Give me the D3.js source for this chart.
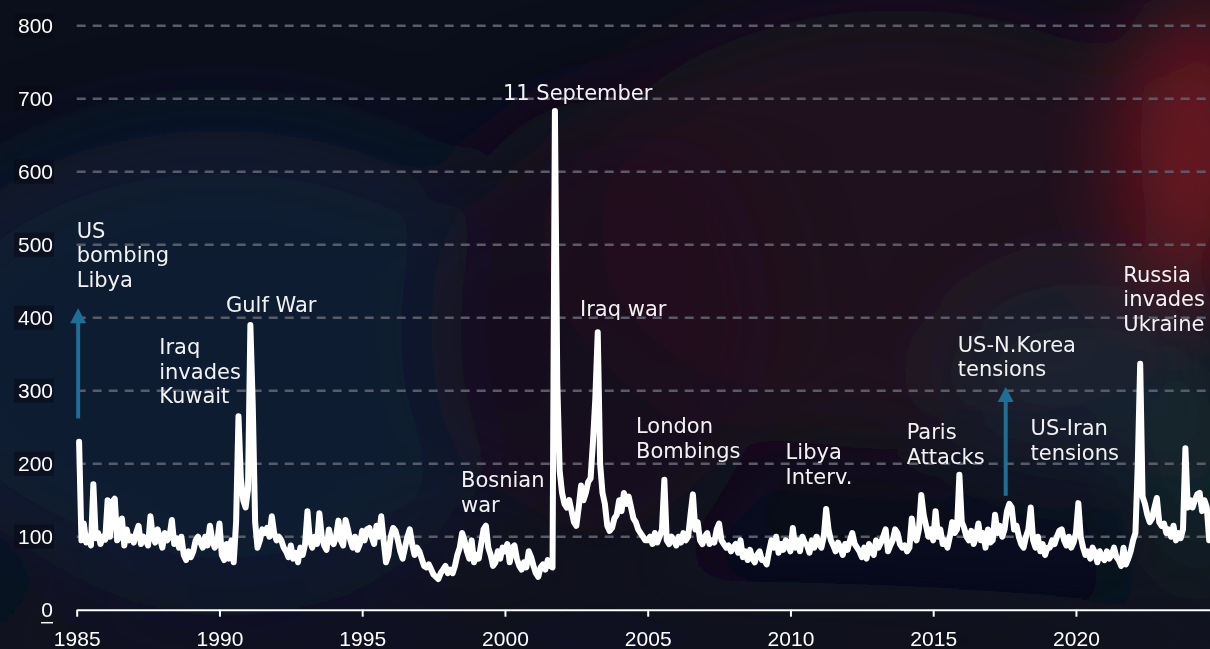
<!DOCTYPE html>
<html>
<head>
<meta charset="utf-8">
<script src="https://cdn.jsdelivr.net/npm/d3@7"></script>
<style>
  html, body { margin: 0; padding: 0; background: #0b1120; overflow: hidden; }
  svg { display: block; }
</style>
</head>
<body>
<svg id="chart" width="1210" height="649"></svg>
<script>
// ---------------- DATA ----------------
const startYear = 1985;
// Monthly geopolitical risk index, Jan 1985 - Aug 2024
const gprValues = [
  230, 95, 118, 92, 100, 88, 172, 98, 105, 90, 100, 96,      // 1985
  150, 100, 148, 152, 95, 100, 125, 88, 110, 95, 100, 92,    // 1986
  105, 115, 90, 100, 95, 88, 128, 100, 92, 110, 98, 85,      // 1987
  105, 95, 100, 123, 90, 98, 85, 100, 75, 68, 80, 72,        // 1988
  80, 95, 100, 92, 85, 100, 88, 115, 95, 85, 90, 118,        // 1989
  75, 68, 90, 70, 95, 65, 120, 265, 180, 150, 140, 165,      // 1990
  390, 280, 120, 85, 95, 110, 105, 112, 100, 128, 105, 95,   // 1991
  100, 95, 85, 80, 72, 88, 70, 78, 65, 85, 75, 90,           // 1992
  135, 95, 85, 100, 90, 132, 100, 88, 82, 110, 95, 90,       // 1993
  100, 122, 95, 88, 123, 110, 95, 85, 100, 82, 90, 108,      // 1994
  95, 110, 112, 100, 90, 115, 100, 128, 95, 65, 75, 100,     // 1995
  112, 108, 95, 80, 70, 85, 100, 110, 90, 75, 85, 80,        // 1996
  70, 60, 58, 62, 55, 48, 45, 42, 50, 55, 60, 50,            // 1997
  55, 50, 60, 75, 85, 105, 95, 80, 70, 95, 65, 75,           // 1998
  70, 90, 110, 115, 85, 75, 60, 65, 80, 70, 85, 80,          // 1999
  90, 65, 85, 88, 70, 60, 55, 65, 58, 80, 72, 60,            // 2000
  50, 45, 58, 62, 55, 68, 60, 58, 683, 310, 190, 160,        // 2001
  145, 140, 150, 135, 120, 115, 140, 170, 150, 160, 175, 180,// 2002
  230, 290, 380, 200, 160, 145, 115, 108, 112, 125, 130, 150,// 2003
  135, 160, 145, 155, 140, 125, 120, 110, 105, 100, 95, 95,  // 2004
  100, 90, 105, 92, 100, 110, 178, 95, 90, 100, 95, 88,      // 2005
  100, 92, 105, 95, 100, 130, 158, 110, 120, 95, 90, 100,    // 2006
  105, 90, 95, 92, 110, 118, 95, 90, 85, 88, 80, 85,         // 2007
  90, 78, 95, 72, 80, 68, 82, 70, 65, 75, 80, 68,            // 2008
  68, 62, 80, 95, 85, 100, 78, 90, 82, 95, 88, 80,           // 2009
  112, 85, 95, 80, 100, 92, 88, 78, 95, 85, 100, 90,         // 2010
  85, 100, 138, 110, 95, 88, 80, 92, 85, 75, 90, 82,         // 2011
  95, 105, 90, 85, 80, 72, 85, 70, 90, 80, 75, 95,           // 2012
  85, 92, 100, 110, 80, 88, 95, 110, 105, 90, 85, 88,        // 2013
  80, 85, 125, 100, 95, 110, 157, 130, 115, 100, 110, 95,    // 2014
  135, 100, 110, 90, 95, 85, 100, 120, 105, 110, 185, 120,   // 2015
  112, 100, 95, 108, 90, 100, 118, 95, 105, 85, 110, 92,     // 2016
  95, 130, 105, 115, 100, 110, 135, 145, 140, 110, 115, 100, // 2017
  90, 85, 100, 110, 140, 95, 85, 100, 80, 90, 75, 85,        // 2018
  85, 95, 90, 100, 108, 110, 95, 88, 100, 85, 92, 105,       // 2019
  146, 100, 85, 75, 80, 70, 85, 78, 65, 80, 72, 68,          // 2020
  80, 70, 75, 85, 72, 68, 60, 85, 62, 70, 80, 95,            // 2021
  105, 200, 337, 155, 145, 130, 120, 125, 140, 153, 120, 115,// 2022
  118, 105, 110, 100, 115, 95, 105, 98, 110, 221, 140, 150,  // 2023
  140, 150, 158, 160, 135, 150, 140, 95                      // 2024
];
const xTickYears = [1985, 1990, 1995, 2000, 2005, 2010, 2015, 2020];
const yTickValues = [0, 100, 200, 300, 400, 500, 600, 700, 800];

// annotations: text lines, anchor year, anchor value (first baseline)
const annoLines  = [["US","bombing","Libya"], ["Iraq","invades","Kuwait"], ["Gulf War"], ["Bosnian","war"],
                    ["11 September"], ["Iraq war"], ["London","Bombings"], ["Libya","Interv."],
                    ["Paris","Attacks"], ["US-N.Korea","tensions"], ["US-Iran","tensions"], ["Russia","invades","Ukraine"]];
const annoYear   = [1985.0, 1987.89, 1990.23, 1998.46, 1999.93, 2002.63, 2004.59, 2009.83, 2014.07, 2015.86, 2018.41, 2021.66];
const annoValue  = [509.6, 349.9, 408.2, 167.7, 698.2, 402.3, 241.6, 206, 233.4, 353.4, 239.3, 449.3];
// arrows: year, from value, to value
const arrowYear = [1985.05, 2017.54];
const arrowFrom = [262, 156];
const arrowTo   = [413, 305];

// ---------------- DRAW ----------------
const W = 1210, H = 649;
const svg = d3.select("#chart");
const defs = svg.append("defs");

// background
const blur = defs.append("filter").attr("id", "blur")
  .attr("x", "-50%").attr("y", "-50%").attr("width", "200%").attr("height", "200%");
blur.append("feGaussianBlur").attr("stdDeviation", 45);

svg.append("rect").attr("width", W).attr("height", H).attr("fill", "#0b0f1c");
const bg = svg.append("g").attr("filter", "url(#blur)");
bg.append("ellipse").attr("cx", 220).attr("cy", 360).attr("rx", 330).attr("ry", 230).attr("fill", "#0f2238").attr("opacity", 0.75);
bg.append("ellipse").attr("cx", 600).attr("cy", 330).attr("rx", 170).attr("ry", 230).attr("fill", "#140f1d").attr("opacity", 0.9);
bg.append("ellipse").attr("cx", 900).attr("cy", 230).attr("rx", 330).attr("ry", 220).attr("fill", "#2b1020").attr("opacity", 0.6);
bg.append("ellipse").attr("cx", 1200).attr("cy", 140).attr("rx", 60).attr("ry", 150).attr("fill", "#8a1b22").attr("opacity", 0.8);
bg.append("ellipse").attr("cx", 1080).attr("cy", 380).attr("rx", 140).attr("ry", 100).attr("fill", "#1b2a3c").attr("opacity", 0.6);
bg.append("ellipse").attr("cx", 1200).attr("cy", 470).attr("rx", 50).attr("ry", 110).attr("fill", "#1c3d36").attr("opacity", 0.6);
bg.append("ellipse").attr("cx", 600).attr("cy", 640).attr("rx", 700).attr("ry", 60).attr("fill", "#0a1020").attr("opacity", 0.8);

// scales
const x = d3.scaleLinear().domain([1985, 2025]).range([76.7, 76.7 + 40 * 28.55]);
const y = d3.scaleLinear().domain([0, 800]).range([609.7, 25.7]);

// gridlines
svg.append("g").selectAll("line")
  .data(yTickValues.filter(v => v > 0))
  .join("line")
  .attr("x1", x(1985)).attr("x2", W)
  .attr("y1", d => y(d)).attr("y2", d => y(d))
  .attr("stroke", "#5a5b68").attr("stroke-width", 2.6)
  .attr("stroke-dasharray", "9,7");

// y labels with dark boxes
const yl = svg.append("g");
yl.selectAll("rect").data(yTickValues.filter(v => v > 0)).join("rect")
  .attr("x", 14).attr("y", d => y(d) - 12).attr("width", 40).attr("height", 24)
  .attr("fill", "#080a14").attr("opacity", 0.6);
yl.selectAll("text").data(yTickValues).join("text")
  .attr("x", 53).attr("y", d => y(d)).attr("dy", "0.35em")
  .attr("text-anchor", "end")
  .attr("font-family", "'Liberation Sans', Arial, sans-serif")
  .attr("font-size", 21).attr("fill", "#ffffff")
  .text(d => d);
yl.append("line").attr("x1", 41).attr("x2", 53).attr("y1", y(0) + 13).attr("y2", y(0) + 13)
  .attr("stroke", "#ffffff").attr("stroke-width", 1.5);

// x axis
const xAxis = d3.axisBottom(x).tickValues(xTickYears).tickFormat(d3.format("d")).tickSize(7).tickSizeOuter(0);
const gx = svg.append("g").attr("transform", `translate(0,${y(0)})`).call(xAxis);
gx.attr("font-family", "'Liberation Sans', Arial, sans-serif").attr("font-size", 21);
gx.select(".domain").attr("stroke", "#ffffff").attr("stroke-width", 2);
gx.selectAll(".tick line").attr("stroke", "#ffffff").attr("stroke-width", 2);
gx.selectAll(".tick text")
  .attr("fill", "#ffffff")
  .attr("y", 21).attr("dy", "0.71em");

// data line
const pts = gprValues.map((v, i) => ({ t: startYear + (i + 1) / 12, v }));
const line = d3.line().x(d => x(d.t)).y(d => y(d.v));
svg.append("path").datum(pts)
  .attr("d", line)
  .attr("fill", "none")
  .attr("stroke", "#ffffff")
  .attr("stroke-width", 6)
  .attr("stroke-linejoin", "round")
  .attr("stroke-linecap", "round");

// arrows
svg.append("g").selectAll("line").data(arrowYear).join("line")
  .attr("x1", d => x(d)).attr("x2", d => x(d))
  .attr("y1", (d, i) => y(arrowFrom[i]))
  .attr("y2", (d, i) => y(arrowTo[i]) + 14)
  .attr("stroke", "#1f6e96").attr("stroke-width", 4);
svg.append("g").selectAll("path").data(arrowYear).join("path")
  .attr("d", (d, i) => {
    const cx = x(d), ty = y(arrowTo[i]);
    return `M${cx},${ty} L${cx + 8},${ty + 15} L${cx - 8},${ty + 15} Z`;
  })
  .attr("fill", "#1f6e96");

// annotations
const ag = svg.append("g")
  .attr("font-family", "'DejaVu Sans', Verdana, sans-serif")
  .attr("font-size", 21).attr("fill", "#f2f2f2");
annoLines.forEach((lines, i) => {
  const t = ag.append("text").attr("x", x(annoYear[i])).attr("y", y(annoValue[i]));
  lines.forEach((s, j) => {
    t.append("tspan").attr("x", x(annoYear[i])).attr("dy", j === 0 ? 0 : 24.5).text(s);
  });
});
</script>
</body>
</html>
